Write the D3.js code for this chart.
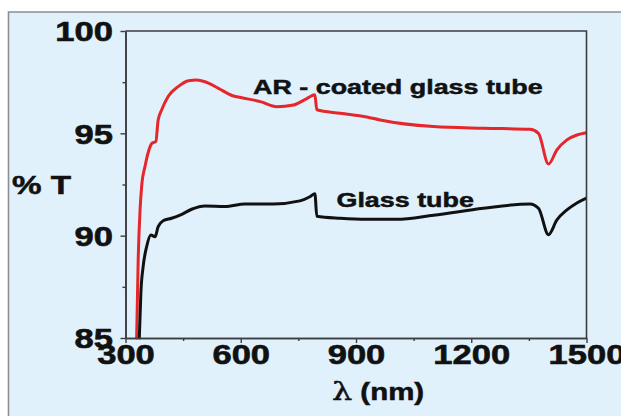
<!DOCTYPE html>
<html>
<head>
<meta charset="utf-8">
<script src="https://cdn.jsdelivr.net/npm/d3@7"></script>
<style>
  html, body { margin: 0; padding: 0; background: #ffffff; }
  svg { display: block; }
  text { font-family: "Liberation Sans", Arial, sans-serif; font-weight: bold; fill: #111; stroke: #111; stroke-width: 0.5px; }
</style>
</head>
<body>
<svg id="chart" width="621" height="416"></svg>
<script>
// Transmittance spectra (%T vs wavelength in nm)
const coatedLambda = [329, 333, 338, 342, 351, 364, 368, 379, 385, 394, 411, 437, 464, 485, 507, 542, 577, 600, 651, 694, 737, 772, 793, 798, 859, 928, 963, 1102, 1232, 1353, 1375, 1401, 1423, 1449, 1475, 1500];
const coatedT      = [85.0, 88.8, 91.3, 92.4, 93.4, 94.35, 94.5, 94.6, 95.65, 96.14, 96.8, 97.28, 97.57, 97.6, 97.52, 97.2, 96.85, 96.75, 96.55, 96.3, 96.38, 96.7, 96.88, 96.15, 95.98, 95.8, 95.65, 95.33, 95.25, 95.2, 95.0, 93.5, 94.19, 94.68, 94.92, 95.03];

const glassLambda = [336, 340, 346, 355, 366, 377, 385, 398, 420, 442, 472, 507, 559, 611, 685, 754, 780, 793, 798, 859, 928, 1005, 1102, 1232, 1353, 1375, 1401, 1423, 1449, 1475, 1500];
const glassT      = [85.0, 87.2, 88.5, 89.46, 90.03, 89.95, 90.44, 90.73, 90.85, 91.0, 91.29, 91.45, 91.42, 91.55, 91.55, 91.7, 91.9, 92.05, 90.95, 90.85, 90.8, 90.8, 91.0, 91.34, 91.55, 91.34, 90.05, 90.77, 91.26, 91.6, 91.84];

const xMajorTicks = [300, 600, 900, 1200, 1500];
const xMinorTicks = [450, 750, 1050, 1350];
const yMajorTicks = [85, 90, 95, 100];
const yMinorTicks = [87.5, 92.5, 97.5];

const coatedLabel = "AR - coated glass tube";
const glassLabel = "Glass tube";
const yTitle = "% T";

const W = 621, H = 416;
const plot = { left: 125.5, right: 586.5, top: 31, bottom: 338 };
const STRETCH = 1.28;   // wide bold lettering

const svg = d3.select("#chart");

// panel background with thin grey border on top and left
svg.append("rect").attr("x", 8.5).attr("y", 12).attr("width", W).attr("height", H)
  .attr("fill", "#e0f1fb");
svg.append("path").attr("d", `M8.5,${H} V12 H${W}`)
  .attr("fill", "none").attr("stroke", "#8a8f93").attr("stroke-width", 1.6);

const x = d3.scaleLinear().domain([300, 1500]).range([plot.left, plot.right]);
const y = d3.scaleLinear().domain([85, 100]).range([plot.bottom, plot.top]);

const axisColor = "#3a3d40";

// clip the steep absorption edge at the bottom of the frame
svg.append("clipPath").attr("id", "plotClip").append("rect")
  .attr("x", plot.left).attr("y", plot.top)
  .attr("width", plot.right - plot.left).attr("height", plot.bottom - plot.top + 2);

const line = d3.line().x(d => x(d[0])).y(d => y(d[1])).curve(d3.curveMonotoneX);

const series = [
  { lam: coatedLambda, t: coatedT, color: "#e5262b" },
  { lam: glassLambda, t: glassT, color: "#111111" }
];
const curves = svg.append("g").attr("clip-path", "url(#plotClip)");
series.forEach(s => {
  curves.append("path")
    .datum(s.lam.map((l, i) => [l, s.t[i]]))
    .attr("d", line)
    .attr("fill", "none")
    .attr("stroke", s.color)
    .attr("stroke-width", 3)
    .attr("stroke-linejoin", "round")
    .attr("stroke-linecap", "round");
});

// frame on top and right
svg.append("path")
  .attr("d", `M${plot.left},${plot.top} H${plot.right} V${plot.bottom}`)
  .attr("fill", "none").attr("stroke", axisColor).attr("stroke-width", 1.6);

// axes
const gx = svg.append("g").attr("transform", `translate(0,${plot.bottom})`)
  .call(d3.axisBottom(x).tickValues(xMajorTicks).tickSize(5).tickSizeOuter(0).tickFormat(d3.format("d")));
const gxMinor = svg.append("g").attr("transform", `translate(0,${plot.bottom})`)
  .call(d3.axisBottom(x).tickValues(xMinorTicks).tickSize(3).tickSizeOuter(0).tickFormat(""));
const gy = svg.append("g").attr("transform", `translate(${plot.left},0)`)
  .call(d3.axisLeft(y).tickValues(yMajorTicks).tickSize(5).tickSizeOuter(0).tickFormat(d3.format("d")));
const gyMinor = svg.append("g").attr("transform", `translate(${plot.left},0)`)
  .call(d3.axisLeft(y).tickValues(yMinorTicks).tickSize(3).tickSizeOuter(0).tickFormat(""));

[gx, gxMinor, gy, gyMinor].forEach(g => {
  g.selectAll("path.domain").attr("stroke", axisColor).attr("stroke-width", 1.6);
  g.selectAll(".tick line").attr("stroke", axisColor).attr("stroke-width", 1.4);
});

const tickFont = sel => sel
  .attr("fill", "#111")
  .style("font-size", "27px")
  .style("font-family", "'Liberation Sans', Arial, sans-serif")
  .style("font-weight", "bold")
  .style("stroke", "#111").style("stroke-width", "0.6px");

gx.selectAll(".tick text")
  .attr("x", null).attr("y", null).attr("dy", null)
  .attr("transform", `translate(0,26) scale(${STRETCH},1)`)
  .call(tickFont);

gy.selectAll(".tick text")
  .attr("x", null).attr("y", null).attr("dy", "0.36em")
  .attr("transform", `translate(-12.5,0) scale(${STRETCH},1)`)
  .call(tickFont);

function label(str, px, py, size, anchor) {
  return svg.append("text")
    .attr("transform", `translate(${px},${py}) scale(${STRETCH},1)`)
    .attr("text-anchor", anchor)
    .style("font-size", size + "px")
    .text(str);
}

label(coatedLabel, 253, 93.5, 21, "start");
label(glassLabel, 336.5, 206.5, 21, "start");
label(yTitle, 12, 194, 26, "start");

// x-axis title: lambda followed by the unit
const xt = svg.append("text")
  .attr("transform", `translate(378,400) scale(${STRETCH},1)`)
  .attr("text-anchor", "middle")
  .style("font-size", "23px");
xt.append("tspan").style("font-family", "'DejaVu Serif', serif").style("font-weight", "normal").style("font-size", "25px").text("λ");
xt.append("tspan").text(" (nm)");
</script>
</body>
</html>
